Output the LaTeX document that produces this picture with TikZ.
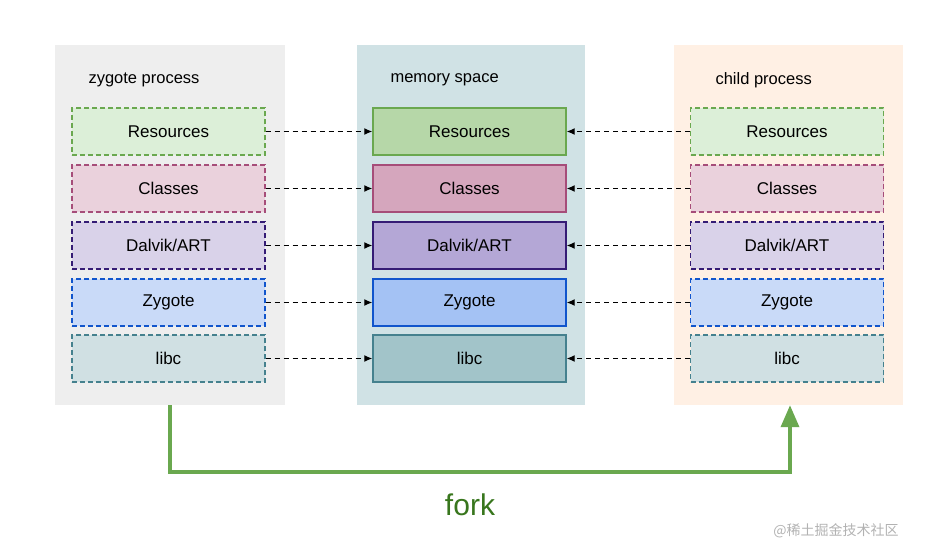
\documentclass[tikz,border=0pt]{standalone}
\usepackage{fontspec}
\setmainfont{Liberation Sans}
\newfontfamily\cjk{Noto Sans CJK SC}
\usetikzlibrary{arrows.meta,positioning}
\definecolor{panelgray}{HTML}{EEEEEE}
\definecolor{panelteal}{HTML}{D0E2E5}
\definecolor{panelpeach}{HTML}{FFF0E4}
\definecolor{resL}{HTML}{DCEFD8}\definecolor{resM}{HTML}{B6D7A8}\definecolor{resB}{HTML}{6AA84F}
\definecolor{claL}{HTML}{EAD1DC}\definecolor{claM}{HTML}{D5A6BD}\definecolor{claB}{HTML}{A64D79}
\definecolor{dalL}{HTML}{D9D2E9}\definecolor{dalM}{HTML}{B4A7D6}\definecolor{dalB}{HTML}{351C75}
\definecolor{zygL}{HTML}{C9DAF8}\definecolor{zygM}{HTML}{A4C2F4}\definecolor{zygB}{HTML}{1155CC}
\definecolor{libL}{HTML}{D0E0E3}\definecolor{libM}{HTML}{A2C4C9}\definecolor{libB}{HTML}{45818E}
\definecolor{forkgreen}{HTML}{6AA84F}
\definecolor{forktext}{HTML}{38761D}
\begin{document}
\begin{tikzpicture}[x=1pt, y=-1pt,
    panel/.style={minimum width=230pt, minimum height=360pt, inner sep=0pt},
    part/.style={minimum width=193pt, minimum height=47pt, inner sep=0pt, font=\fontsize{17}{20}\selectfont, line width=1.4pt},
    copy/.style={part, dash pattern=on 5pt off 3pt},
    title/.style={anchor=west, font=\fontsize{16.5}{20}\selectfont},
    link/.style={dash pattern=on 5pt off 4pt, line width=1.2pt, -{Latex[length=8pt,width=7pt]}}]

    \useasboundingbox (0,0) rectangle (932,559);

    % --- panels ---
    \node[panel, fill=panelgray] (zp) at (170,225) {};
    \node[panel, fill=panelteal, minimum width=228pt] (ms) at (471,225) {};
    \node[panel, fill=panelpeach, minimum width=229pt] (cp) at (788.5,225) {};
    \node[title] at (85,80) {zygote process};
    \node[title] at (387,80) {memory space};
    \node[title] at (712,80) {child process};

    % --- parts ---
    \foreach \name/\txt/\col/\y in {res/Resources/res/131.5, cla/Classes/cla/188.5, dal/Dalvik\slash ART/dal/245.5, zyg/Zygote/zyg/302.5, lib/libc/lib/358.5}{
        \node[copy, draw=\col B, fill=\col L] (\name z) at (168.5,\y) {\txt};
        \node[part, draw=\col B, fill=\col M] (\name m) at (469.5,\y) {\txt};
        \node[copy, draw=\col B, fill=\col L] (\name c) at (787,\y) {\txt};
        \draw[link] (\name z) -- (\name m);
        \draw[link] (\name c) -- (\name m);
    }

    % --- fork ---
    \coordinate (fa) at (170,472);
    \coordinate (fb) at (790,472);
    \draw[forkgreen, line width=3.5pt, -{Triangle[length=22pt,width=18pt]}]
        (zp.south -| fa) -- (fa) -- (fb) -- (cp.south -| fb);
    \node[text=forktext, font=\fontsize{30}{34}\selectfont] at (470,505) {fork};
    \node[text=gray!60, font=\cjk\fontsize{14}{16}\selectfont] at (836,531) {@稀土掘金技术社区};
\end{tikzpicture}
\end{document}
